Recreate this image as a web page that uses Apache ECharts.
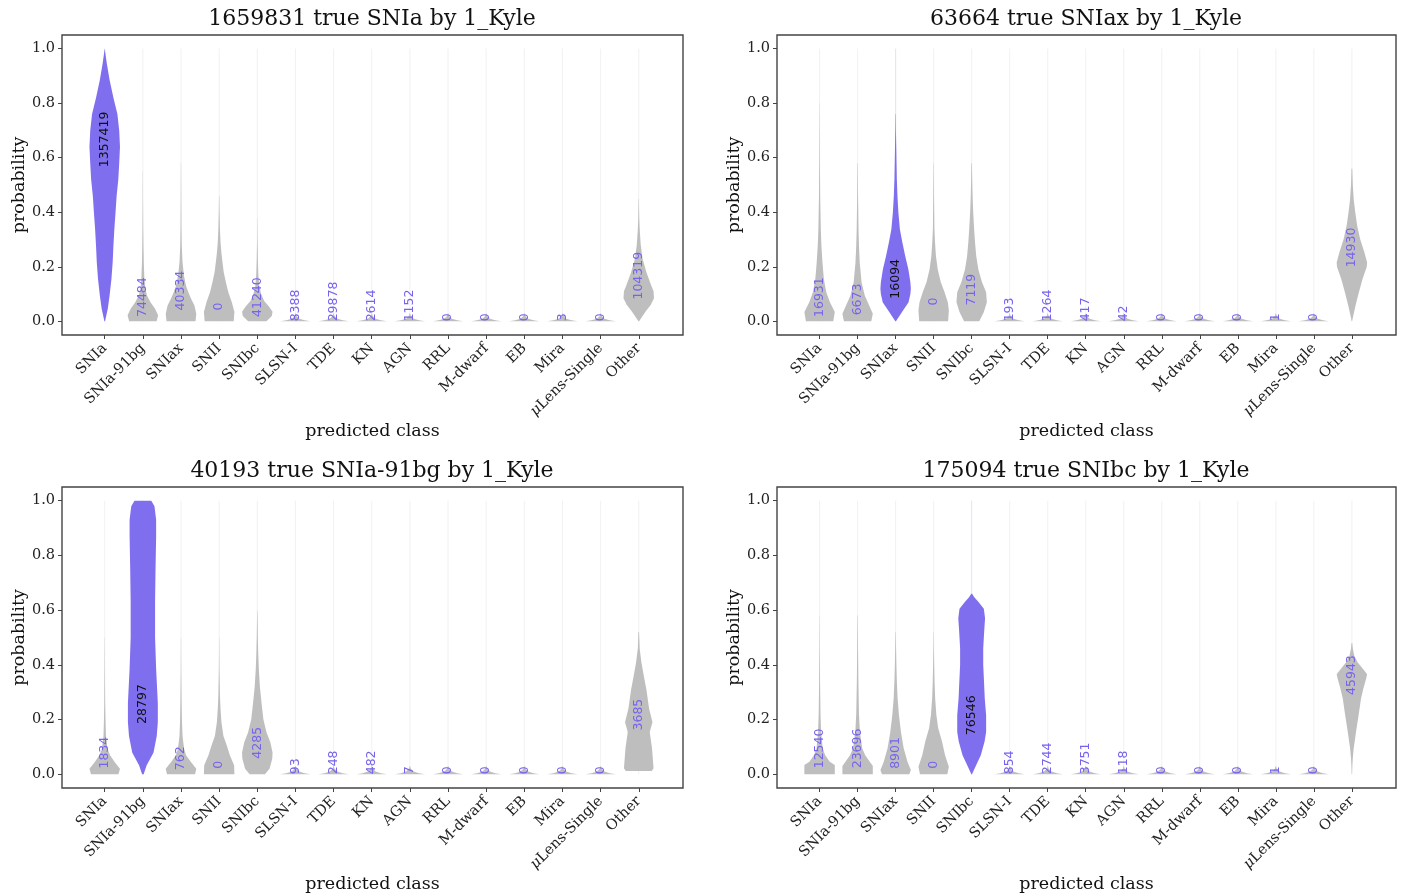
<!DOCTYPE html>
<html>
<head>
<meta charset="utf-8">
<title>violins</title>
<script src="https://cdn.jsdelivr.net/npm/echarts@6/dist/echarts.min.js"></script>
<style>
html, body { margin: 0; padding: 0; background: #fff; }
#main { width: 1404px; height: 894px; }
</style>
</head>
<body>
<div id="main"></div>
<script>
// classes on the x axis
const classes = ['SNIa', 'SNIa-91bg', 'SNIax', 'SNII', 'SNIbc', 'SLSN-I', 'TDE', 'KN', 'AGN', 'RRL', 'M-dwarf', 'EB', 'Mira', 'μLens-Single', 'Other'];
const titles = ['1659831 true SNIa by 1_Kyle', '63664 true SNIax by 1_Kyle', '40193 true SNIa-91bg by 1_Kyle', '175094 true SNIbc by 1_Kyle'];
const trueClass = [0, 2, 1, 4];
const yTicks = [0, 0.2, 0.4, 0.6, 0.8, 1.0];

// how many objects got each class as top prediction
const counts1 = [1357419, 74484, 40334, 0, 41240, 8388, 29878, 2614, 1152, 0, 0, 0, 3, 0, 104319];
const counts2 = [16931, 6673, 16094, 0, 7119, 193, 1264, 417, 42, 0, 0, 0, 1, 0, 14930];
const counts3 = [1834, 28797, 762, 0, 4285, 93, 248, 482, 7, 0, 0, 0, 0, 0, 3685];
const counts4 = [12540, 23696, 8901, 0, 76546, 854, 2744, 3751, 118, 0, 0, 0, 1, 0, 45943];

// median probability (where the count is written)
const median1 = [0.565, 0.016, 0.04, 0.04, 0.016, 0, 0, 0, 0, 0, 0, 0, 0, 0, 0.08];
const median2 = [0.016, 0.022, 0.083, 0.058, 0.058, 0, 0, 0, 0, 0, 0, 0, 0, 0, 0.198];
const median3 = [0.021, 0.184, 0.015, 0.02, 0.057, 0, 0, 0, 0, 0, 0, 0, 0, 0, 0.16];
const median4 = [0.022, 0.022, 0.02, 0.02, 0.143, 0, 0, 0, 0, 0, 0, 0, 0, 0, 0.29];

// density profiles: [probability, relative width]
const flat = [[0, 1], [0.004, 0.6], [0.01, 0.25], [0.02, 0.06], [0.03, 0.01]];

const shapes1 = [
  [[0, 0.02], [0.046, 0.2], [0.095, 0.32], [0.155, 0.44], [0.216, 0.52], [0.277, 0.57], [0.338, 0.63], [0.4, 0.71], [0.46, 0.78], [0.52, 0.89], [0.58, 0.95], [0.64, 1.0], [0.7, 0.95], [0.76, 0.83], [0.82, 0.57], [0.885, 0.32], [0.945, 0.14], [1.0, 0]],
  [[0, 0.9], [0.022, 1.0], [0.046, 0.8], [0.07, 0.5], [0.095, 0.27], [0.12, 0.16], [0.155, 0.1], [0.216, 0.06], [0.277, 0.04], [0.34, 0.025], [0.45, 0.012], [0.55, 0.006]],
  [[0, 0.95], [0.028, 1.0], [0.058, 0.88], [0.083, 0.66], [0.107, 0.48], [0.13, 0.33], [0.168, 0.19], [0.216, 0.1], [0.277, 0.05], [0.34, 0.03], [0.46, 0.015], [0.58, 0.008]],
  [[0, 0.95], [0.034, 1.0], [0.07, 0.83], [0.107, 0.6], [0.143, 0.44], [0.18, 0.3], [0.216, 0.22], [0.25, 0.15], [0.29, 0.09], [0.34, 0.05], [0.4, 0.025], [0.46, 0.01]],
  [[0, 0.6], [0.02, 0.95], [0.035, 1.0], [0.055, 0.75], [0.075, 0.45], [0.1, 0.25], [0.13, 0.13], [0.17, 0.07], [0.22, 0.04], [0.3, 0.015], [0.38, 0.006]],
  flat, flat, flat, flat, flat, flat, flat, flat, flat,
  [[0, 0.02], [0.036, 0.45], [0.06, 0.78], [0.085, 1.0], [0.11, 0.97], [0.13, 0.83], [0.18, 0.5], [0.23, 0.25], [0.28, 0.13], [0.33, 0.07], [0.38, 0.03], [0.45, 0.01]]
];

const shapes2 = [
  [[0, 0.9], [0.034, 1.0], [0.07, 0.68], [0.107, 0.44], [0.155, 0.28], [0.216, 0.19], [0.277, 0.12], [0.338, 0.08], [0.46, 0.04], [0.58, 0.022], [0.7, 0.012], [0.8, 0.006]],
  [[0, 0.9], [0.028, 1.0], [0.058, 0.76], [0.095, 0.47], [0.143, 0.26], [0.216, 0.14], [0.277, 0.09], [0.338, 0.06], [0.46, 0.028], [0.58, 0.012]],
  [[0, 0.02], [0.034, 0.42], [0.07, 0.85], [0.1, 0.97], [0.12, 1.0], [0.143, 0.97], [0.19, 0.84], [0.24, 0.63], [0.29, 0.44], [0.338, 0.28], [0.4, 0.18], [0.46, 0.12], [0.52, 0.08], [0.58, 0.06], [0.64, 0.04], [0.7, 0.02], [0.76, 0.01]],
  [[0, 0.95], [0.04, 1.0], [0.07, 0.93], [0.107, 0.72], [0.143, 0.47], [0.19, 0.27], [0.24, 0.15], [0.29, 0.09], [0.34, 0.05], [0.46, 0.025], [0.58, 0.01]],
  [[0, 0.5], [0.034, 0.8], [0.07, 1.0], [0.107, 0.95], [0.143, 0.68], [0.19, 0.44], [0.24, 0.3], [0.29, 0.22], [0.34, 0.16], [0.4, 0.1], [0.46, 0.06], [0.52, 0.035], [0.58, 0.018]],
  flat, flat, flat, flat, flat, flat, flat, flat, flat,
  [[0, 0.01], [0.058, 0.24], [0.107, 0.46], [0.155, 0.7], [0.2, 0.98], [0.216, 1.0], [0.253, 0.82], [0.3, 0.55], [0.35, 0.35], [0.4, 0.22], [0.447, 0.12], [0.5, 0.06], [0.56, 0.025]]
];

const shapes3 = [
  [[0, 0.9], [0.02, 1.0], [0.045, 0.65], [0.07, 0.35], [0.093, 0.18], [0.14, 0.08], [0.2, 0.05], [0.26, 0.03], [0.38, 0.015], [0.5, 0.006]],
  [[0, 0.05], [0.033, 0.25], [0.08, 0.7], [0.14, 0.91], [0.19, 0.98], [0.26, 0.98], [0.385, 0.87], [0.5, 0.8], [0.63, 0.8], [0.75, 0.83], [0.87, 0.87], [0.93, 0.87], [0.98, 0.76], [1.0, 0.55]],
  [[0, 0.92], [0.02, 1.0], [0.045, 0.65], [0.07, 0.33], [0.093, 0.2], [0.14, 0.1], [0.2, 0.06], [0.26, 0.04], [0.38, 0.015], [0.5, 0.006]],
  [[0, 1.0], [0.033, 0.98], [0.07, 0.7], [0.105, 0.5], [0.14, 0.28], [0.19, 0.15], [0.24, 0.09], [0.29, 0.05], [0.385, 0.018], [0.5, 0.006]],
  [[0, 0.5], [0.02, 0.8], [0.057, 0.98], [0.08, 1.0], [0.118, 0.85], [0.154, 0.6], [0.2, 0.4], [0.26, 0.28], [0.32, 0.17], [0.385, 0.1], [0.445, 0.06], [0.5, 0.035], [0.57, 0.018], [0.6, 0.008]],
  flat, flat, flat, flat, flat, flat, flat, flat, flat,
  [[0.012, 0.85], [0.022, 0.97], [0.095, 0.87], [0.155, 0.72], [0.19, 0.9], [0.24, 0.68], [0.31, 0.5], [0.36, 0.33], [0.41, 0.17], [0.46, 0.06], [0.52, 0.02]]
];

const shapes4 = [
  [[0, 1.0], [0.034, 1.0], [0.046, 0.67], [0.07, 0.37], [0.095, 0.2], [0.155, 0.1], [0.22, 0.06], [0.34, 0.03], [0.46, 0.015], [0.58, 0.006]],
  [[0, 1.0], [0.03, 1.0], [0.046, 0.8], [0.07, 0.5], [0.095, 0.3], [0.155, 0.15], [0.22, 0.09], [0.34, 0.05], [0.46, 0.028], [0.58, 0.012]],
  [[0, 0.9], [0.016, 1.0], [0.046, 0.78], [0.095, 0.53], [0.155, 0.35], [0.216, 0.22], [0.277, 0.13], [0.34, 0.08], [0.4, 0.05], [0.46, 0.028], [0.52, 0.012]],
  [[0, 0.9], [0.028, 1.0], [0.07, 0.75], [0.12, 0.55], [0.168, 0.3], [0.216, 0.18], [0.277, 0.1], [0.34, 0.06], [0.4, 0.035], [0.46, 0.018], [0.52, 0.008]],
  [[0, 0.02], [0.034, 0.3], [0.07, 0.6], [0.12, 0.85], [0.155, 0.95], [0.216, 0.95], [0.277, 0.86], [0.34, 0.81], [0.4, 0.76], [0.46, 0.76], [0.52, 0.82], [0.57, 0.88], [0.605, 0.8], [0.63, 0.45], [0.648, 0.16], [0.66, 0.03]],
  flat, flat, flat, flat, flat, flat, flat, flat, flat,
  [[0, 0.01], [0.034, 0.03], [0.06, 0.06], [0.095, 0.12], [0.155, 0.27], [0.216, 0.44], [0.277, 0.6], [0.313, 0.75], [0.35, 0.94], [0.366, 1.0], [0.386, 0.72], [0.41, 0.36], [0.435, 0.15], [0.46, 0.06], [0.48, 0.025]]
];

const panels = [
  { counts: counts1, median: median1, shapes: shapes1 },
  { counts: counts2, median: median2, shapes: shapes2 },
  { counts: counts3, median: median3, shapes: shapes3 },
  { counts: counts4, median: median4, shapes: shapes4 }
];

const PURPLE = '#7f6fee';
const GRAY = '#bebebe';
const LABEL = '#7563ee';
const SERIF = 'DejaVu Serif';
const HALF = 0.4; // half of the violin width, in category units

const gridPos = [
  { left: 62, top: 35, width: 621, height: 300 },
  { left: 777, top: 35, width: 619, height: 300 },
  { left: 62, top: 487, width: 621, height: 303 },
  { left: 777, top: 487, width: 619, height: 303 }
];
const titlePos = [
  { left: 372, top: 8 },
  { left: 1086, top: 8 },
  { left: 372, top: 460 },
  { left: 1086, top: 460 }
];

const classIdx = classes.map((c, i) => i);

var myChart = echarts.init(document.getElementById('main'));

myChart.setOption({
  animation: false,
  backgroundColor: '#fff',
  title: titles.map((t, k) => ({
    text: t,
    left: titlePos[k].left,
    top: titlePos[k].top,
    textAlign: 'center',
    padding: 0,
    textStyle: { fontFamily: SERIF, fontSize: 22, fontWeight: 'normal', color: '#111' }
  })),
  grid: gridPos.map(g => Object.assign({ show: true, borderColor: '#444', borderWidth: 1.4, containLabel: false }, g)),
  xAxis: gridPos.map((g, k) => ({
    type: 'value',
    gridIndex: k,
    min: -1.12,
    max: 15.16,
    axisLine: { show: false, onZero: false },
    splitLine: { show: false },
    axisTick: { show: true, length: 4, customValues: classIdx, lineStyle: { color: '#444' } },
    axisLabel: {
      customValues: classIdx,
      rotate: 45,
      margin: 11,
      fontFamily: SERIF,
      fontSize: 14.5,
      color: '#222',
      formatter: v => {
        const name = classes[Math.round(v)];
        return name.charAt(0) === 'μ' ? '{mu|μ}' + name.slice(1) : name;
      },
      rich: { mu: { fontFamily: SERIF, fontSize: 14.5, fontStyle: 'italic', color: '#222' } }
    },
    name: 'predicted class',
    nameLocation: 'middle',
    nameGap: 85,
    nameTextStyle: { fontFamily: SERIF, fontSize: 17.5, color: '#111' }
  })),
  yAxis: gridPos.map((g, k) => ({
    type: 'value',
    gridIndex: k,
    min: -0.05,
    max: 1.05,
    axisLine: { show: false, onZero: false },
    splitLine: { show: false },
    axisTick: { show: true, length: 4, customValues: yTicks, lineStyle: { color: '#444' } },
    axisLabel: {
      customValues: yTicks,
      margin: 7,
      fontFamily: SERIF,
      fontSize: 14.5,
      color: '#222',
      formatter: v => v.toFixed(1)
    },
    name: 'probability',
    nameLocation: 'middle',
    nameGap: 34,
    nameTextStyle: { fontFamily: SERIF, fontSize: 17.5, color: '#111' }
  })),
  series: panels.map((p, k) => ({
    type: 'custom',
    xAxisIndex: k,
    yAxisIndex: k,
    data: classIdx.map(i => [i]),
    renderItem: function (params, api) {
      const i = api.value(0);
      const shape = p.shapes[i];
      const isTrue = i === trueClass[k];
      const color = isTrue ? PURPLE : GRAY;
      const right = shape.map(d => api.coord([i + d[1] * HALF, d[0]]));
      const left = shape.slice().reverse().map(d => api.coord([i - d[1] * HALF, d[0]]));
      const base = api.coord([i, 0]);
      const top = api.coord([i, 1]);
      const anchor = api.coord([i, p.median[i]]);
      return {
        type: 'group',
        children: [
          { type: 'line', shape: { x1: base[0], y1: base[1], x2: top[0], y2: top[1] }, style: { stroke: color, opacity: 0.22, lineWidth: 1 } },
          { type: 'polygon', shape: { points: right.concat(left) }, style: { fill: color } },
          {
            type: 'text',
            x: anchor[0],
            y: anchor[1],
            rotation: Math.PI / 2,
            style: {
              text: String(p.counts[i]),
              fill: isTrue ? '#111' : LABEL,
              fontFamily: 'DejaVu Sans',
              fontSize: 12.5,
              align: 'left',
              verticalAlign: 'middle'
            }
          }
        ]
      };
    }
  }))
});
</script>
</body>
</html>
